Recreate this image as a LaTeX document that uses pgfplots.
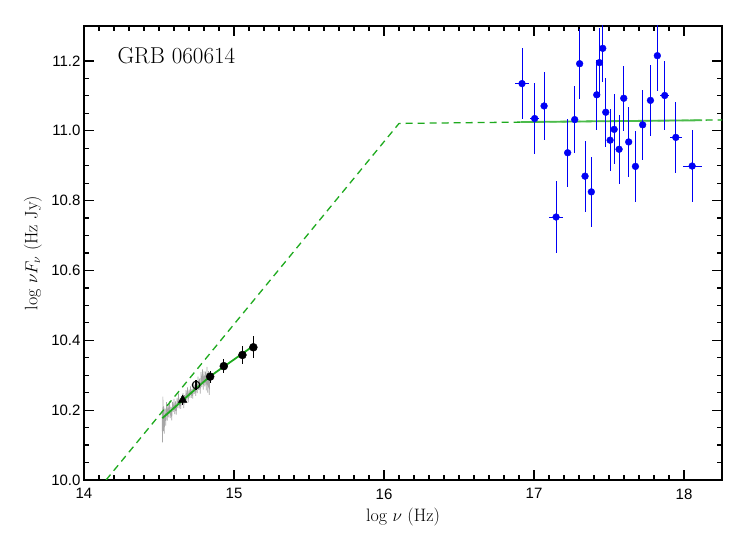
\documentclass[border=0pt]{standalone}
\usepackage{pgfplots}
\pgfplotsset{compat=1.18}
\usepackage{fontspec}
\newfontfamily\tickfont{Liberation Sans}
\definecolor{fitgreen}{RGB}{30,170,30}
\definecolor{xblue}{RGB}{0,0,245}
\definecolor{xbar}{RGB}{125,125,255}

% X-ray points: log nu, log nuFnu, errors
\pgfplotstableread{
x       y       ex     ey
16.920  11.135  0.049  0.102
17.004  11.035  0.031  0.102
17.067  11.071  0.021  0.098
17.147  10.753  0.047  0.102
17.224  10.937  0.012  0.097
17.271  11.032  0.012  0.097
17.304  11.192  0.012  0.100
17.340  10.870  0.012  0.102
17.382  10.825  0.012  0.101
17.418  11.103  0.012  0.100
17.436  11.195  0.012  0.099
17.458  11.236  0.012  0.095
17.478  11.053  0.012  0.099
17.507  10.973  0.012  0.088
17.534  11.004  0.012  0.100
17.567  10.947  0.012  0.099
17.598  11.093  0.012  0.093
17.631  10.968  0.012  0.101
17.676  10.898  0.012  0.101
17.724  11.017  0.012  0.101
17.776  11.087  0.012  0.101
17.822  11.215  0.012  0.100
17.871  11.101  0.029  0.100
17.945  10.981  0.041  0.101
18.054  10.899  0.063  0.102
}\xray

\begin{document}
\begin{tikzpicture}
\useasboundingbox (-84pt,-54pt) rectangle (663pt,480pt);
\begin{axis}[
  at={(0,0)}, anchor=south west,
  scale only axis, width=638pt, height=454pt,
  xmin=14, xmax=18.253, ymin=10, ymax=11.3,
  xtick={14,15,16,17,18},
  ytick={10,10.2,10.4,10.6,10.8,11,11.2},
  minor x tick num=9, minor y tick num=3,
  axis line style={line width=1.4pt},
  tick style={black, line width=1.2pt},
  major tick length=10pt, minor tick length=5pt,
  /pgf/number format/assume math mode=true,
  ticklabel style={font=\tickfont\fontsize{15}{15}\selectfont},
  xticklabel style={yshift=-5pt},
  yticklabel style={/pgf/number format/.cd, fixed, fixed zerofill, precision=1},
  every axis x label/.style={at={(axis description cs:0.5,0)}, anchor=center, yshift=-37pt},
  every axis y label/.style={at={(axis description cs:0,0.5)}, rotate=90, anchor=center, yshift=51pt},
  label style={font=\fontsize{18}{18}\selectfont},
  xlabel={log $\nu$ (Hz)},
  ylabel={log $\nu F_\nu$ (Hz Jy)},
]

% optical spectrum
\addplot[black!35, line width=0.6pt] coordinates {
(14.520,10.197) (14.523,10.108) (14.526,10.239) (14.529,10.140) (14.532,10.211)
(14.535,10.133) (14.540,10.204) (14.545,10.156) (14.550,10.223) (14.555,10.170)
(14.560,10.217) (14.565,10.179) (14.570,10.226) (14.575,10.177) (14.580,10.209)
(14.585,10.171) (14.590,10.223) (14.595,10.195) (14.600,10.232) (14.605,10.189)
(14.610,10.225) (14.615,10.187) (14.620,10.234) (14.625,10.206) (14.630,10.248)
(14.635,10.205) (14.640,10.232) (14.645,10.204) (14.650,10.240) (14.655,10.217)
(14.660,10.249) (14.665,10.206) (14.670,10.243) (14.675,10.220) (14.680,10.257)
(14.685,10.228) (14.690,10.265) (14.695,10.222) (14.700,10.259) (14.705,10.236)
(14.710,10.268) (14.715,10.235) (14.720,10.261) (14.725,10.233) (14.730,10.280)
(14.735,10.247) (14.740,10.274) (14.745,10.241) (14.750,10.283) (14.755,10.249)
(14.760,10.296) (14.765,10.258) (14.770,10.290) (14.775,10.247) (14.780,10.309)
(14.785,10.266) (14.790,10.317) (14.795,10.259) (14.800,10.311) (14.805,10.268)
(14.810,10.310) (14.815,10.257) (14.820,10.324) (14.825,10.250) (14.830,10.312)
(14.835,10.244) (14.840,10.306) (14.845,10.278)
};

% model (dashed) and fits
\addplot[fitgreen, line width=1.3pt, dash pattern=on 7pt off 5pt]
  coordinates {(14.147,10.0) (16.10,11.021) (18.253,11.031)};
\addplot[fitgreen, line width=1.8pt, smooth]
  coordinates {(14.522,10.177) (14.70,10.244) (14.84,10.296) (15.00,10.345) (15.129,10.384)};
\addplot[fitgreen!80, line width=1.8pt]
  coordinates {(16.913,11.025) (18.12,11.030)};

% optical / UV points
\addplot[black, only marks, mark=triangle*, mark size=5pt,
  error bars/.cd, y dir=both, y explicit, error mark=none,
  error bar style={black, line width=1.2pt}]
  coordinates {(14.658,10.229) +- (0,0.015)};
\addplot[black, only marks, mark=o, mark size=3.8pt, mark options={line width=1pt},
  error bars/.cd, y dir=both, y explicit, error mark=none,
  error bar style={black, line width=1.2pt}]
  coordinates {(14.747,10.272) +- (0,0.014)};
\addplot[black, only marks, mark=*, mark size=4pt,
  error bars/.cd, y dir=both, y explicit, error mark=none,
  error bar style={black, line width=1.2pt}]
  coordinates {(14.841,10.296) +- (0,0.017)
               (14.932,10.326) +- (0,0.02)
               (15.056,10.358) +- (0,0.027)
               (15.129,10.380) +- (0,0.032)};

% X-ray points
\addplot[xblue, only marks, mark=*, mark size=3.4pt,
  error bars/.cd, x dir=both, x explicit, y dir=both, y explicit, error mark=none,
  error bar style={xbar, line width=1pt}]
  table[x=x, y=y, x error=ex, y error=ey] {\xray};

\node[anchor=west, font=\fontsize{23}{23}\selectfont] at (axis cs:14.2,11.214) {GRB 060614};
\end{axis}
\end{tikzpicture}
\end{document}
